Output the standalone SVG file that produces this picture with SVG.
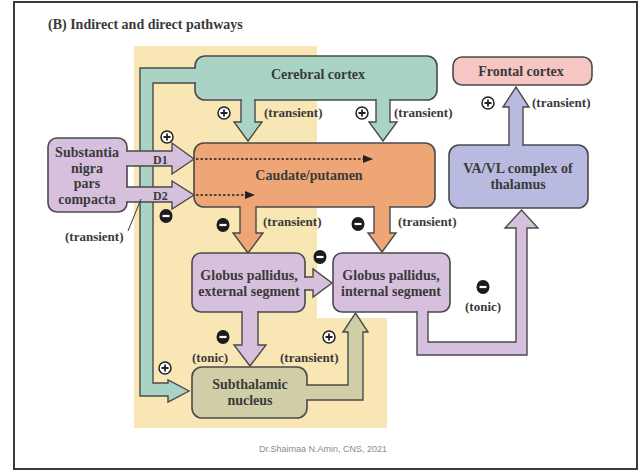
<svg xmlns="http://www.w3.org/2000/svg" width="643" height="472" viewBox="0 0 643 472">
<defs>
<style>
.t{font-family:"Liberation Serif",serif;font-weight:bold;font-size:14px;fill:#3a3a3a;text-anchor:middle}
.l{font-family:"Liberation Serif",serif;font-weight:bold;font-size:13px;fill:#3a3a3a}
.box{stroke:#4a4a4a;stroke-width:1.6}
.ar{stroke:#4a4a4a;stroke-width:1.4;stroke-linejoin:miter}
.teal{fill:#a9d3c5}.orange{fill:#efa676}.lav{fill:#d7c0dd}.blue{fill:#b9badf}.pink{fill:#f5c6c3}.olive{fill:#cfcea6}
.dash{stroke:#222;stroke-width:1.5;stroke-dasharray:2.5 2;fill:none}
</style>
<marker id="ah" viewBox="0 0 10 8" refX="9" refY="4" markerWidth="10" markerHeight="8" markerUnits="userSpaceOnUse" orient="auto">
<path d="M0,0 L10,4 L0,8 Z" fill="#222"/>
</marker>
<g id="plus">
<circle r="6" fill="#fff" stroke="#222" stroke-width="1.5"/>
<path d="M-3.5,0 H3.5 M0,-3.5 V3.5" stroke="#222" stroke-width="1.8"/>
</g>
<g id="minus">
<ellipse rx="6.5" ry="7" fill="#1c1c1c"/>
<rect x="-3.5" y="-1.1" width="7" height="2.2" fill="#fff"/>
</g>
</defs>
<rect x="0" y="0" width="643" height="472" fill="#fff"/>
<rect x="14" y="2" width="623" height="467" fill="#fff" stroke="#3a3a3a" stroke-width="2"/>
<polygon points="134,46 317,46 317,318 387,318 387,428 134,428" fill="#f8e6b5"/>
<text x="48" y="29" class="t" style="text-anchor:start;font-size:14px">(B) Indirect and direct pathways</text>

<g id="cerebral-cortex">
<rect x="195" y="56" width="242" height="44" rx="10" class="box teal"/>
<text x="318" y="79" class="t">Cerebral cortex</text>
</g>
<g id="frontal-cortex">
<rect x="453" y="57" width="139" height="28" rx="9" class="box pink"/>
<text x="521" y="76" class="t">Frontal cortex</text>
</g>
<g id="substantia-nigra">
<rect x="48" y="138" width="79" height="74" rx="9" class="box lav"/>
<text x="87" y="157" class="t">Substantia</text>
<text x="87" y="173" class="t">nigra</text>
<text x="87" y="188" class="t">pars</text>
<text x="87" y="204" class="t">compacta</text>
</g>
<g id="caudate-putamen">
<rect x="194" y="143" width="241" height="64" rx="10" class="box orange"/>
<text x="309" y="180" class="t">Caudate/putamen</text>
</g>
<g id="va-vl">
<rect x="449" y="145" width="139" height="63" rx="10" class="box blue"/>
<text x="518" y="173" class="t">VA/VL complex of</text>
<text x="518" y="189" class="t">thalamus</text>
</g>
<g id="gpe">
<rect x="192" y="253" width="113" height="59" rx="9" class="box lav"/>
<text x="249" y="280" class="t">Globus pallidus,</text>
<text x="249" y="296" class="t">external segment</text>
</g>
<g id="gpi">
<rect x="333" y="253" width="117" height="59" rx="9" class="box lav"/>
<text x="391" y="280" class="t">Globus pallidus,</text>
<text x="391" y="296" class="t">internal segment</text>
</g>
<g id="subthalamic-nucleus">
<rect x="192" y="367" width="115" height="51" rx="10" class="box olive"/>
<text x="250" y="389" class="t">Subthalamic</text>
<text x="250" y="405" class="t">nucleus</text>
</g>

<g id="connectors">
<path d="M196,68 H140 V396 H168 V402 L189,391 L168,380 V383 H153 V83 H196" class="ar teal"/>
<path d="M241,99 V122 H234 L248,141 L262,122 H255 V99" class="ar teal"/>
<path d="M376,99 V122 H369 L383,141 L397,122 H390 V99" class="ar teal"/>
<path d="M126,151 H172 V143 L194,159 L172,174 V166 H126" class="ar lav"/>
<path d="M126,187 H172 V181 L194,195 L172,209 V202 H126" class="ar lav"/>
<text x="153" y="164" class="l" style="font-size:12px">D1</text>
<text x="153" y="200" class="l" style="font-size:12px">D2</text>
<path d="M196,159 H372" class="dash" marker-end="url(#ah)"/>
<path d="M196,195 H254" class="dash" marker-end="url(#ah)"/>
<path d="M240,206 V233 H233 L248,253 L263,233 H256 V206" class="ar orange"/>
<path d="M374,206 V233 H368 L382,252 L396,233 H390 V206" class="ar orange"/>
<path d="M304,277 H313 V269 L332,283 L313,297 V290 H304" class="ar lav"/>
<path d="M242,311 V345 H234 L250,366 L266,345 H258 V311" class="ar lav"/>
<path d="M306,385 H348 V332 H343 L355.5,313 L368,332 H363 V400 H306" class="ar olive"/>
<path d="M417,311 V355 H527 V228 H538 L521.5,210 L505,228 H516 V342 H428 V311" class="ar lav"/>
<path d="M509,146 V107 H503 L516,87 L529,107 H523 V146" class="ar blue"/>
<line x1="128" y1="231" x2="141" y2="199" stroke="#333" stroke-width="1"/>
</g>

<g id="labels">
<use href="#plus" x="224" y="113"/>
<use href="#plus" x="362" y="113"/>
<use href="#plus" x="167" y="137"/>
<use href="#plus" x="488" y="103"/>
<use href="#plus" x="165" y="368"/>
<use href="#plus" x="329" y="337"/>
<use href="#minus" x="166" y="216"/>
<use href="#minus" x="223" y="225"/>
<use href="#minus" x="358" y="224"/>
<use href="#minus" x="320" y="257"/>
<use href="#minus" x="223" y="337"/>
<use href="#minus" x="483" y="287"/>
<text x="264" y="117" class="l">(transient)</text>
<text x="394" y="117" class="l">(transient)</text>
<text x="532" y="107" class="l">(transient)</text>
<text x="263" y="226" class="l">(transient)</text>
<text x="398" y="226" class="l">(transient)</text>
<text x="65" y="241" class="l">(transient)</text>
<text x="192" y="362" class="l">(tonic)</text>
<text x="280" y="362" class="l">(transient)</text>
<text x="465" y="311" class="l">(tonic)</text>
</g>
<text x="323" y="452" style="font-family:'Liberation Sans',sans-serif;font-size:9px;fill:#8a8a8a;text-anchor:middle">Dr.Shaimaa N.Amin, CNS, 2021</text>
</svg>
